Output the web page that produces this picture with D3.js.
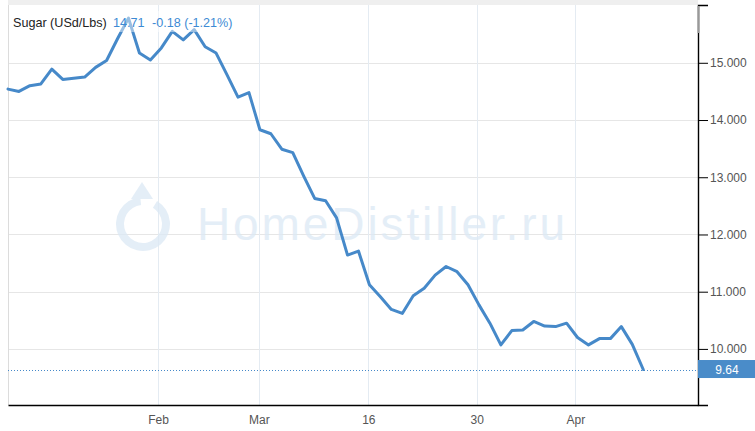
<!DOCTYPE html>
<html><head><meta charset="utf-8">
<script src="https://cdn.jsdelivr.net/npm/d3@7"></script>
<style>
html,body{margin:0;padding:0;background:#fff;}
svg{display:block;font-family:"Liberation Sans",Arial,Helvetica,sans-serif;}
</style>
</head><body>
<svg id="c" width="755" height="431"></svg>
<script>
// ---- data ----
const prices = [14.54,14.50,14.60,14.63,14.89,14.71,14.73,14.75,14.92,15.04,
                15.42,15.78,15.17,15.05,15.26,15.55,15.40,15.58,15.28,15.17,
                14.79,14.40,14.48,13.83,13.76,13.49,13.43,13.02,12.63,12.59,
                12.29,11.64,11.71,11.12,10.91,10.69,10.62,10.93,11.06,11.29,
                11.44,11.35,11.12,10.77,10.45,10.07,10.32,10.33,10.48,10.40,
                10.39,10.45,10.20,10.07,10.18,10.18,10.39,10.08,9.64];
const xTickPositions = [13.7, 22.9, 32.9, 42.8, 51.8];
const xTickLabels = ["Feb","Mar","16","30","Apr"];
const yTickValues = [10,11,12,13,14,15];
const titleName = "Sugar (USd/Lbs)";
const titleLast = "14.71";
const titleChange = "-0.18 (-1.21%)";
const lastLabel = "9.64";
const watermark = "HomeDistiller.ru";

// ---- scales ----
const L = 8, R = 698, T = 5, B = 405;
const x = d3.scaleLinear().domain([0, 63]).range([L, R]);
const y = d3.scaleLinear().domain([9.02, 16.01]).range([B, T]);
const blue = "#4689c9";

const svg = d3.select("#c");

// top band
svg.append("rect").attr("x", L).attr("y", 0).attr("width", R - L).attr("height", T).attr("fill", "#efefef");

// horizontal grid
svg.append("g").selectAll("line").data(yTickValues).join("line")
  .attr("x1", L).attr("x2", R)
  .attr("y1", d => Math.round(y(d)) + 0.5).attr("y2", d => Math.round(y(d)) + 0.5)
  .attr("stroke", "#e6e6e6");

// vertical grid
svg.append("g").selectAll("line").data(xTickPositions).join("line")
  .attr("x1", d => Math.round(x(d)) + 0.5).attr("x2", d => Math.round(x(d)) + 0.5)
  .attr("y1", T).attr("y2", B)
  .attr("stroke", "#e4ebf2");

// left border
svg.append("line").attr("x1", L + 0.5).attr("x2", L + 0.5).attr("y1", T).attr("y2", B).attr("stroke", "#dcdcdc");

// watermark
const wm = svg.append("g").attr("opacity", 0.75);
wm.append("path")
  .attr("transform", "translate(143,224)")
  .attr("d", d3.arc().innerRadius(19).outerRadius(27).startAngle(0.55).endAngle(2 * Math.PI - 0.1)())
  .attr("fill", "#dce9f5");
wm.append("path")
  .attr("d", "M131,199 L142,182 L153,199 Z")
  .attr("fill", "#dce9f5");
wm.append("text")
  .attr("x", 197).attr("y", 240)
  .attr("font-size", 46)
  .attr("textLength", 368).attr("lengthAdjust", "spacing")
  .attr("fill", "#dce9f5")
  .text(watermark);

// dotted last-value line
svg.append("line")
  .attr("x1", L).attr("x2", R)
  .attr("y1", Math.round(y(prices[prices.length - 1])) + 0.5)
  .attr("y2", Math.round(y(prices[prices.length - 1])) + 0.5)
  .attr("stroke", blue).attr("stroke-dasharray", "1,2");

// price line
svg.append("path")
  .datum(prices)
  .attr("d", d3.line().x((d, i) => x(i)).y(d => y(d)))
  .attr("fill", "none").attr("stroke", blue)
  .attr("stroke-width", 3).attr("stroke-linejoin", "round").attr("stroke-linecap", "round");

// title veil + text
svg.append("rect").attr("x", L + 1).attr("y", 11).attr("width", 232).attr("height", 21)
  .attr("fill", "#fff").attr("opacity", 0.45);
svg.append("text").attr("x", 13).attr("y", 27).attr("font-size", 12.6).attr("fill", "#222").text(titleName);
svg.append("text").attr("x", 113).attr("y", 27).attr("font-size", 12.6).attr("fill", "#3d8ad4").text(titleLast);
svg.append("text").attr("x", 152).attr("y", 27).attr("font-size", 12.6).attr("fill", "#3d8ad4").text(titleChange);

// y axis (right)
const yAxis = svg.append("g").attr("transform", `translate(${R},0)`)
  .call(d3.axisRight(y).tickValues(yTickValues).tickFormat(d3.format(".3f"))
    .tickSize(10).tickSizeOuter(10).tickPadding(2));
yAxis.select(".domain").attr("stroke", "#000").attr("stroke-width", 1.4);
yAxis.selectAll(".tick line").attr("stroke", "#000");
yAxis.selectAll("text").attr("fill", "#555").attr("font-size", 12)
  .attr("font-family", "'Liberation Sans',Arial,sans-serif");
svg.append("rect").attr("x", R - 0.5).attr("y", T + 1).attr("width", 2).attr("height", 27).attr("fill", "#999");

// x axis
const xAxis = svg.append("g").attr("transform", `translate(0,${B})`)
  .call(d3.axisBottom(x).tickValues(xTickPositions).tickFormat((d, i) => xTickLabels[i])
    .tickSize(0).tickSizeOuter(0).tickPadding(10));
xAxis.select(".domain").attr("stroke", "#000").attr("stroke-width", 1.4);
xAxis.selectAll("text").attr("fill", "#555").attr("font-size", 12)
  .attr("font-family", "'Liberation Sans',Arial,sans-serif");

// last value label
const yl = y(prices[prices.length - 1]);
svg.append("rect").attr("x", R).attr("y", yl - 9.5).attr("width", 755 - R).attr("height", 18).attr("fill", "#4a8cc9");
svg.append("text").attr("x", 727).attr("y", yl + 4.3).attr("text-anchor", "middle")
  .attr("font-size", 12).attr("fill", "#fff").text(lastLabel);
</script>
</body></html>
